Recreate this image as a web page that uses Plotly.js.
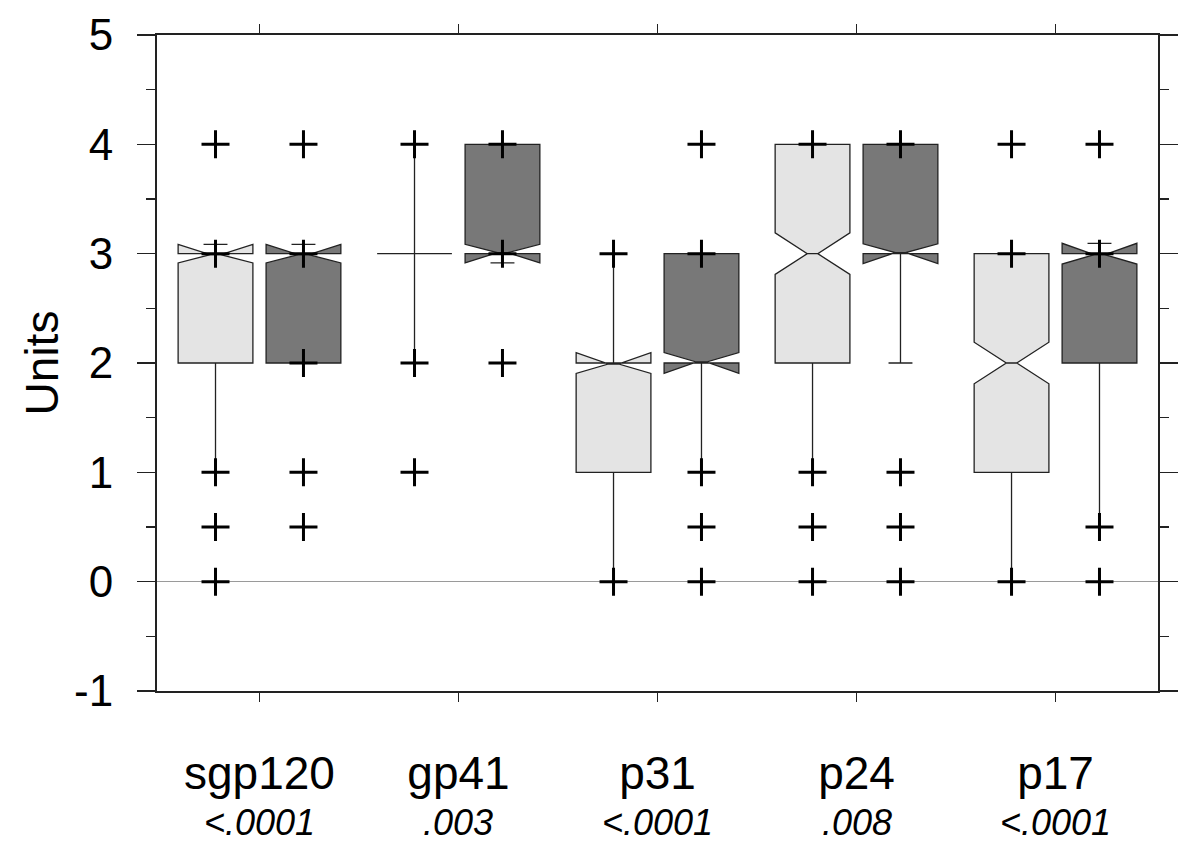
<!DOCTYPE html>
<html>
<head>
<meta charset="utf-8">
<script src="https://cdn.plot.ly/plotly-3.0.1.min.js"></script>
<style>html,body{margin:0;padding:0;background:#fff;}#chart{width:1200px;height:859px;}</style>
</head>
<body>
<div id="chart"></div>
<script>
// ---- Data ----
const categories = ['sgp120', 'gp41', 'p31', 'p24', 'p17'];
const pValues = ['<.0001', '.003', '<.0001', '.008', '<.0001'];

// Light-grey group (box statistics)
const lightQ1 = [2, 3, 1, 2, 1];
const lightMedian = [3, 3, 2, 3, 2];
const lightQ3 = [3, 3, 2, 4, 3];
const lightLower = [1, 2, 0, 1, 0];
const lightUpper = [3, 4, 3, 4, 3];
const lightNotch = [0.085, 0, 0.095, 0.19, 0.19];

// Dark-grey group (box statistics)
const darkQ1 = [2, 3, 2, 3, 2];
const darkMedian = [3, 3, 2, 3, 3];
const darkQ3 = [3, 4, 3, 4, 3];
const darkLower = [2, 3, 1, 2, 0.5];
const darkUpper = [3, 4, 3, 4, 3];
const darkNotch = [0.085, 0.085, 0.095, 0.09, 0.095];

// Plotted "+" values per category
const lightPoints = [[4, 3, 1, 0.5, 0], [4, 2, 1], [3, 0], [4, 1, 0.5, 0], [4, 3, 0]];
const darkPoints = [[4, 3, 2, 1, 0.5], [4, 3, 2], [4, 3, 1, 0.5, 0], [4, 1, 0.5, 0], [4, 3, 0.5, 0]];

const yTicks = [-1, 0, 1, 2, 3, 4, 5];

// ---- Build traces ----
function flatX(pts) { const out = []; pts.forEach((arr, i) => arr.forEach(() => out.push(categories[i]))); return out; }
function flatY(pts) { const out = []; pts.forEach(arr => arr.forEach(v => out.push(v))); return out; }

const boxCommon = {
  type: 'box', orientation: 'v', notched: true, notchwidth: 0.43, whiskerwidth: 0.32,
  boxpoints: false, alignmentgroup: 'all', hoverinfo: 'skip', showlegend: false
};
const lightBox = Object.assign({}, boxCommon, {
  x: categories, q1: lightQ1, median: lightMedian, q3: lightQ3,
  lowerfence: lightLower, upperfence: lightUpper, notchspan: lightNotch,
  offsetgroup: 'A', fillcolor: '#e4e4e4', line: {color: '#222', width: 1.3}
});
const darkBox = Object.assign({}, boxCommon, {
  x: categories, q1: darkQ1, median: darkMedian, q3: darkQ3,
  lowerfence: darkLower, upperfence: darkUpper, notchspan: darkNotch,
  offsetgroup: 'B', fillcolor: '#787878', line: {color: '#222', width: 1.3}
});
const ptsCommon = {
  type: 'box', orientation: 'v', boxpoints: 'all', jitter: 0, pointpos: 0,
  alignmentgroup: 'all', fillcolor: 'rgba(0,0,0,0)', line: {width: 0, color: 'rgba(0,0,0,0)'},
  whiskerwidth: 0, showlegend: false, hoveron: 'points',
  marker: {symbol: 'cross-thin', size: 20, color: '#000', line: {width: 3, color: '#000'}}
};
const lightPts = Object.assign({}, ptsCommon, {x: flatX(lightPoints), y: flatY(lightPoints), offsetgroup: 'A'});
const darkPts = Object.assign({}, ptsCommon, {x: flatX(darkPoints), y: flatY(darkPoints), offsetgroup: 'B'});

const font = 'Liberation Sans, Arial, sans-serif';

const annotations = categories.map((c, i) => ({
  x: c, xref: 'x', y: -0.2, yref: 'paper', yanchor: 'middle', xanchor: 'center',
  text: '<i>' + pValues[i] + '</i>', showarrow: false,
  font: {family: font, size: 36, color: '#000'}
}));

const layout = {
  width: 1200, height: 859,
  margin: {l: 157, r: 42, t: 35, b: 168},
  paper_bgcolor: '#fff', plot_bgcolor: '#fff',
  boxmode: 'group', boxgap: 0.116, boxgroupgap: 0.15,
  showlegend: false,
  font: {family: font, color: '#000'},
  xaxis: {
    type: 'category', categoryorder: 'array', categoryarray: categories,
    range: [-0.515, 4.515], showgrid: false, zeroline: false,
    showline: true, linecolor: '#222', linewidth: 2, mirror: 'ticks',
    ticks: 'outside', ticklen: 9, tickwidth: 1.5, tickcolor: '#222',
    tickfont: {family: font, size: 46, color: '#000'}, ticklabelstandoff: 32
  },
  yaxis: {
    range: [-1, 5], tickvals: yTicks, ticktext: yTicks.map(String), showgrid: false,
    zeroline: true, zerolinecolor: '#9a9a9a', zerolinewidth: 1,
    showline: true, linecolor: '#222', linewidth: 2, mirror: 'ticks',
    ticks: 'outside', ticklen: 18, tickwidth: 1.5, tickcolor: '#222',
    minor: {dtick: 0.5, tick0: 0, ticks: 'outside', ticklen: 9, tickwidth: 1.5, tickcolor: '#222', showgrid: false},
    tickfont: {family: font, size: 44, color: '#000'}, ticklabelstandoff: 15,
    title: {text: 'Units', font: {family: font, size: 46, color: '#000'}, standoff: 1}
  },
  annotations: annotations
};

Plotly.newPlot('chart', [lightBox, darkBox, lightPts, darkPts], layout, {displayModeBar: false, staticPlot: true});
</script>
</body>
</html>
